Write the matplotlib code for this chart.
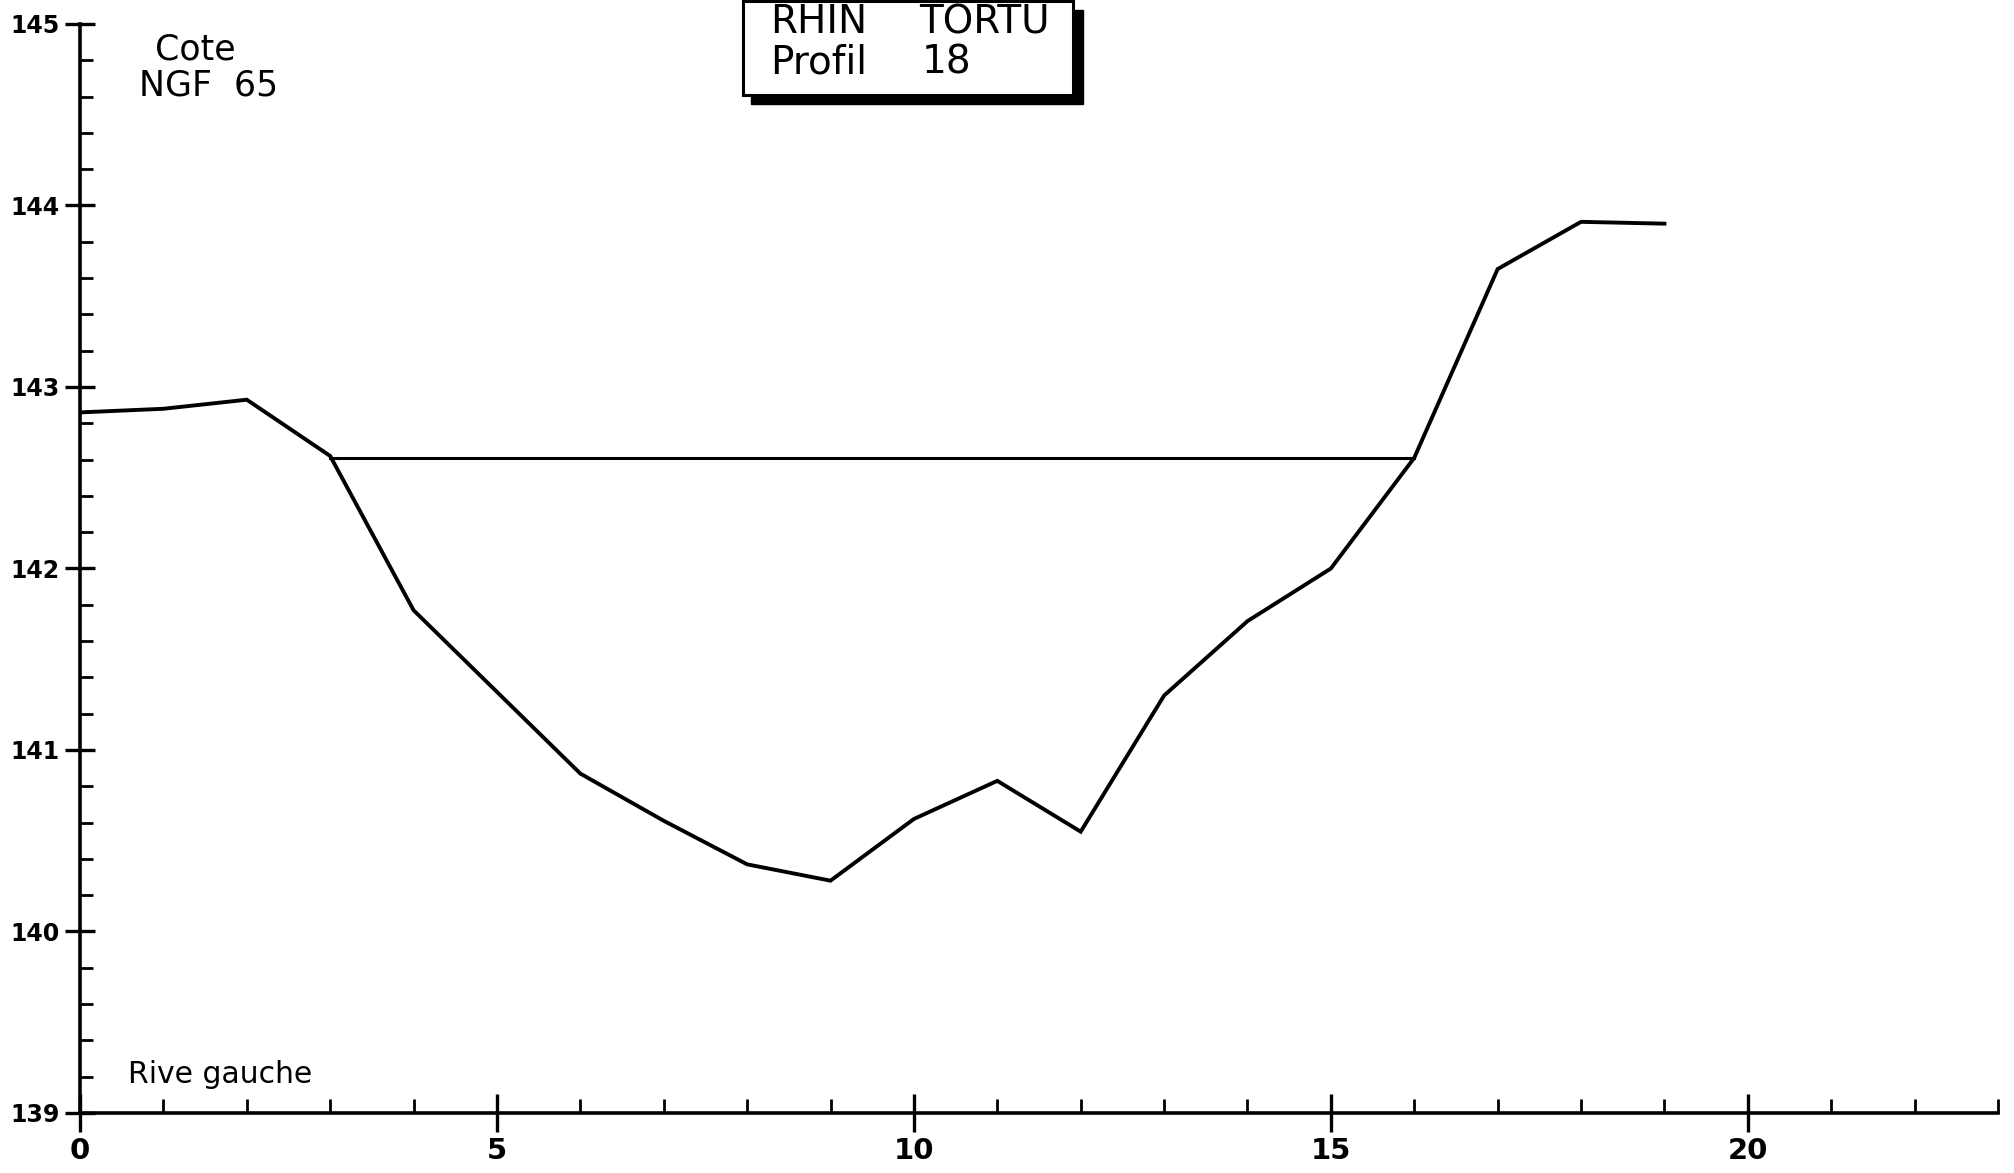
import matplotlib
matplotlib.use("Agg")
import matplotlib.pyplot as plt
from matplotlib.patches import Rectangle
from matplotlib.ticker import MultipleLocator, FixedLocator

# Cross-section of the Rhin Tortu, profile 18
distance = [0, 1, 2, 3, 4, 5, 6, 7, 8, 9, 10, 11, 12, 13, 14, 15, 16, 17, 18, 19]
elevation = [142.86, 142.88, 142.93, 142.62, 141.77, 141.32, 140.87, 140.61,
             140.37, 140.28, 140.62, 140.83, 140.55, 141.30, 141.71, 142.00,
             142.61, 143.65, 143.91, 143.90]
water_level = 142.61
water_extent = [3, 16]

x_major = [0, 5, 10, 15, 20]
y_major = [139, 140, 141, 142, 143, 144, 145]

W, H = 2015, 1173
fig = plt.figure(figsize=(W / 100, H / 100), dpi=100)
ax = fig.add_axes([80 / W, 1 - 1113 / H, (1998 - 80) / W, (1113 - 24) / H])

ax.plot(distance, elevation, color="black", lw=2.8, solid_joinstyle="miter")
ax.plot(water_extent, [water_level, water_level], color="black", lw=2.2)

ax.set_xlim(0, 23)
ax.set_ylim(139, 145)

for side in ("top", "right"):
    ax.spines[side].set_visible(False)
for side in ("left", "bottom"):
    ax.spines[side].set_linewidth(2.6)

ax.xaxis.set_major_locator(FixedLocator(x_major))
ax.xaxis.set_minor_locator(MultipleLocator(1))
ax.yaxis.set_major_locator(FixedLocator(y_major))
ax.yaxis.set_minor_locator(MultipleLocator(0.2))

ax.tick_params(axis="x", which="major", direction="inout", length=27, width=2.4, pad=4)
ax.tick_params(axis="x", which="minor", direction="in", length=10, width=2.0)
ax.tick_params(axis="y", which="major", direction="inout", length=21, width=2.4, pad=4)
ax.tick_params(axis="y", which="minor", direction="in", length=9, width=2.0)

tick_font = dict(family=["DejaVu Sans"], weight="bold")
ax.set_xticks(x_major)
ax.set_xticklabels([str(v) for v in x_major], fontsize=21, **tick_font)
ax.set_yticks(y_major)
ax.set_yticklabels([str(v) for v in y_major], fontsize=17, **tick_font)


def px(x, y):
    """Figure fraction from pixel position measured from the top-left corner."""
    return x / W, 1 - y / H


# Axis captions
fig.text(*px(155, 59), "Cote", fontsize=25, ha="left", va="baseline")
fig.text(*px(139, 95), "NGF  65", fontsize=25, ha="left", va="baseline")
fig.text(*px(128, 1083), "Rive gauche", fontsize=21.5, ha="left", va="baseline")

# Title box with drop shadow
shadow = Rectangle(px(751, 104), (1083 - 751) / W, 94 / H,
                   transform=fig.transFigure, facecolor="black", edgecolor="black",
                   zorder=5)
box = Rectangle(px(743, 95), (1073 - 743) / W, 94 / H,
                transform=fig.transFigure, facecolor="white", edgecolor="black",
                lw=2.2, zorder=6)
fig.patches.extend([shadow, box])
title_font = dict(fontsize=28, ha="left", va="baseline", zorder=7)
fig.text(*px(770, 33), "RHIN", **title_font)
fig.text(*px(919, 33), "TORTU", **title_font)
fig.text(*px(770, 74), "Profil", **title_font)
fig.text(*px(922, 74), "18", **title_font)

fig.savefig("out.png", dpi=100, facecolor="white")
